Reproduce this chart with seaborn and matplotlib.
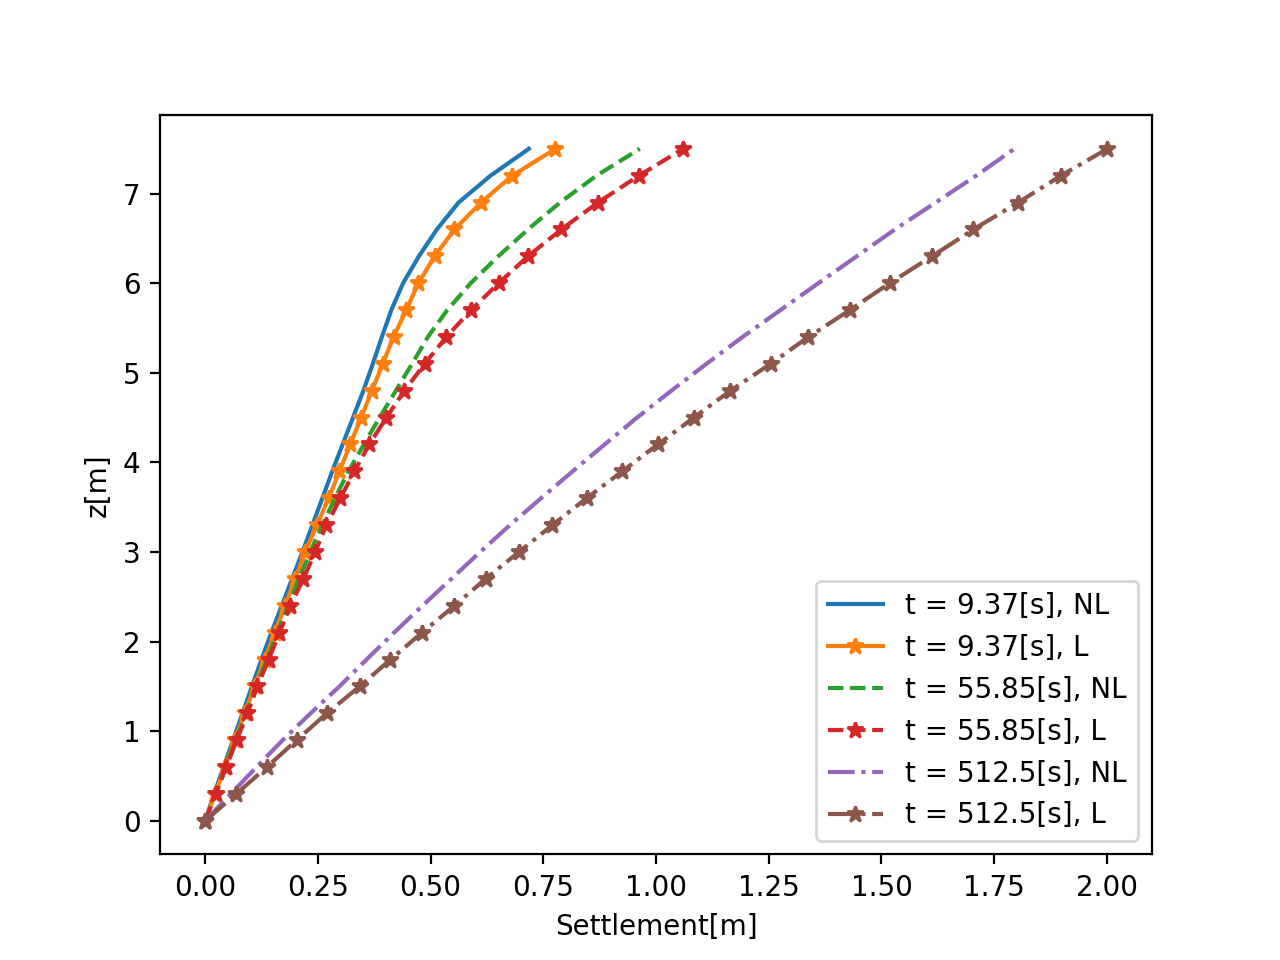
import matplotlib
matplotlib.use("Agg")
import matplotlib.pyplot as plt
import seaborn as sns
import numpy as np

z = [0.0, 0.3, 0.6, 0.9, 1.2, 1.5, 1.8, 2.1, 2.4, 2.7, 3.0, 3.3, 3.6,
     3.9, 4.2, 4.5, 4.8, 5.1, 5.4, 5.7, 6.0, 6.3, 6.6, 6.9, 7.2, 7.5]

nl_9 = [0.0, 0.020, 0.041, 0.062, 0.083, 0.104, 0.125, 0.147, 0.170, 0.193,
        0.216, 0.238, 0.260, 0.282, 0.305, 0.328, 0.351, 0.372, 0.392, 0.413,
        0.439, 0.474, 0.514, 0.562, 0.633, 0.718]
l_9 = [0.0, 0.022, 0.044, 0.066, 0.088, 0.110, 0.132, 0.155, 0.177, 0.200,
       0.222, 0.248, 0.274, 0.298, 0.322, 0.346, 0.370, 0.394, 0.418, 0.446,
       0.473, 0.509, 0.553, 0.612, 0.681, 0.777]
nl_55 = [0.0, 0.023, 0.045, 0.068, 0.091, 0.113, 0.137, 0.160, 0.184, 0.208,
         0.233, 0.260, 0.288, 0.318, 0.352, 0.387, 0.423, 0.459, 0.494, 0.537,
         0.589, 0.650, 0.716, 0.787, 0.868, 0.964]
l_55 = [0.0, 0.024, 0.047, 0.070, 0.094, 0.116, 0.141, 0.165, 0.189, 0.218,
        0.244, 0.269, 0.300, 0.331, 0.364, 0.402, 0.442, 0.487, 0.535, 0.590,
        0.651, 0.716, 0.790, 0.871, 0.962, 1.060]
nl_512 = [0.0, 0.057, 0.114, 0.172, 0.234, 0.298, 0.358, 0.419, 0.482, 0.546,
          0.610, 0.676, 0.745, 0.815, 0.886, 0.958, 1.034, 1.112, 1.192, 1.276,
          1.360, 1.445, 1.530, 1.620, 1.710, 1.795]
l_512 = [0.0, 0.069, 0.137, 0.203, 0.270, 0.343, 0.411, 0.481, 0.553, 0.622,
         0.696, 0.770, 0.846, 0.925, 1.004, 1.084, 1.165, 1.254, 1.338, 1.430,
         1.518, 1.612, 1.704, 1.803, 1.898, 2.001]

series = [
    ("t = 9.37[s], NL", nl_9, "-", None, "#1f77b4"),
    ("t = 9.37[s], L", l_9, "-", "*", "#ff7f0e"),
    ("t = 55.85[s], NL", nl_55, "--", None, "#2ca02c"),
    ("t = 55.85[s], L", l_55, "--", "*", "#d62728"),
    ("t = 512.5[s], NL", nl_512, "-.", None, "#9467bd"),
    ("t = 512.5[s], L", l_512, "-.", "*", "#8c564b"),
]

fig, ax = plt.subplots(figsize=(6.4, 4.8), dpi=200)
for label, vals, ls, mk, col in series:
    kw = dict(x=vals, y=z, ax=ax, sort=False, estimator=None, color=col,
              linestyle=ls, label=label, linewidth=1.5)
    if mk:
        kw.update(marker=mk, markersize=6, markeredgecolor=col, markeredgewidth=1)
    sns.lineplot(**kw)

ax.set_xlabel("Settlement[m]")
ax.set_ylabel("z[m]")
ax.set_xticks(np.arange(0, 2.01, 0.25))
ax.set_xlim(-0.1, 2.1)
ax.legend(loc="lower right")
fig.savefig("out.png", dpi=200)
